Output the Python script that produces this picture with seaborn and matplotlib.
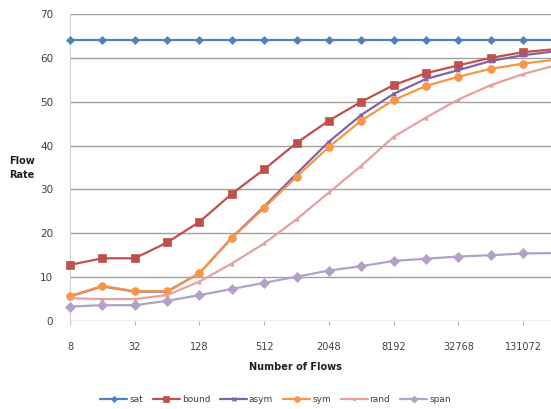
import matplotlib
matplotlib.use("Agg")
import matplotlib.pyplot as plt
import seaborn as sns
import pandas as pd
import numpy as np

flows = [8, 16, 32, 64, 128, 256, 512, 1024, 2048, 4096, 8192, 16384, 32768, 65536, 131072, 262144]
tick_labels = ["8", "32", "128", "512", "2048", "8192", "32768", "131072"]

sat   = [64]*16
bound = [12.8, 14.3, 14.3, 17.9, 22.6, 29.0, 34.6, 40.6, 45.7, 50.0, 53.8, 56.5, 58.3, 60.0, 61.3, 62.0]
asym  = [5.6, 7.9, 6.7, 6.7, 10.9, 19.0, 26.1, 33.6, 40.9, 47.0, 51.8, 55.2, 57.2, 59.3, 60.6, 61.5]
sym   = [5.7, 8.0, 6.8, 6.8, 10.9, 18.9, 25.8, 32.9, 39.7, 45.7, 50.4, 53.6, 55.7, 57.5, 58.7, 59.6]
rand  = [5.2, 5.0, 5.0, 5.9, 9.0, 13.1, 17.7, 23.2, 29.3, 35.4, 42.0, 46.4, 50.5, 53.8, 56.3, 58.3]
span  = [3.3, 3.6, 3.6, 4.6, 5.9, 7.3, 8.7, 10.1, 11.5, 12.5, 13.7, 14.2, 14.7, 15.0, 15.4, 15.5]

series = {"sat": sat, "bound": bound, "asym": asym, "sym": sym, "rand": rand, "span": span}
colors = {"sat": "#4F81BD", "bound": "#C0504D", "asym": "#8064A2",
          "sym": "#F79646", "rand": "#E6A0A0", "span": "#B3A2C7"}
markers = {"sat": "D", "bound": "s", "asym": "x", "sym": "o", "rand": "^", "span": "D"}
msizes = {"sat": 4.2, "bound": 5.8, "asym": 3, "sym": 5.6, "rand": 2.5, "span": 4.8}

sns.set_style("white")
plt.rcParams['font.family'] = ['DejaVu Sans']

fig = plt.figure(figsize=(5.51, 4.09), dpi=100)
ax = fig.add_axes([70/551, 1-321/409, 1-70/551, (321-14)/409])

idx = np.arange(len(flows))
for name, vals in series.items():
    df = pd.DataFrame({"x": idx, "y": vals})
    sns.lineplot(data=df, x="x", y="y", ax=ax, color=colors[name], marker=markers[name],
                 markersize=msizes[name], linewidth=1.6, markeredgecolor=colors[name],
                 markeredgewidth=1.0 if markers[name] == "x" else 0.5,
                 label=name, clip_on=False, zorder=3)

ax.set_xlim(0, 14.86)
ax.set_ylim(0, 70)
ax.set_yticks(range(0, 71, 10))
ax.yaxis.grid(True, color="#A0A0A0", linewidth=1.0)
ax.set_axisbelow(True)
ax.set_xticks(idx[::2])
ax.set_xticklabels(tick_labels)
for s in ["top", "right", "bottom"]:
    ax.spines[s].set_visible(False)
ax.spines["left"].set_color("#D0D0D0")
ax.spines["left"].set_bounds(-1, 70)
ax.tick_params(axis="x", length=3, color="#B0B0B0", pad=12, labelsize=7, labelcolor="#404040", direction="out", bottom=True)
ax.tick_params(axis="y", length=0, pad=12, labelsize=7.5, labelcolor="#404040")
ax.set_xlabel("")
ax.set_ylabel("")

fig.text(22/551, 1-168/409, "Flow\nRate", ha="center", va="center", fontsize=7,
         fontweight="bold", color="#202020", linespacing=1.6)
fig.text(295/551, 1-367/409, "Number of Flows", ha="center", va="center", fontsize=7,
         fontweight="bold", color="#202020")

handles, labels = ax.get_legend_handles_labels()
ax.get_legend().remove()
fig.legend(handles, labels, loc="center", bbox_to_anchor=(0.5, 1-400/409), ncol=6,
           frameon=False, fontsize=6.5, handlelength=3.0, columnspacing=1.1, handletextpad=0.2,
           labelcolor="#404040", markerscale=0.75)

fig.savefig("out.png", dpi=100)
